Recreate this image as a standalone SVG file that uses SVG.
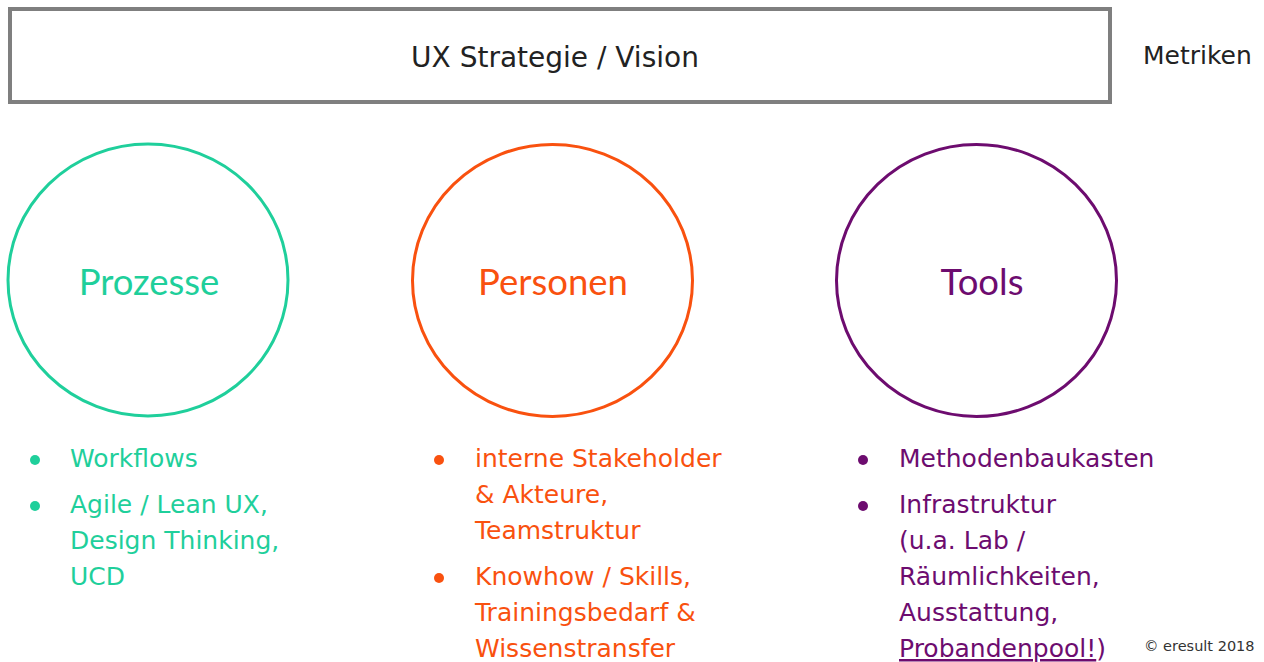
<svg xmlns="http://www.w3.org/2000/svg" width="1264" height="662" viewBox="0 0 1264 662">
  <style>
    .body { font-family: "DejaVu Sans", Verdana, sans-serif; font-size: 25px; }
    .head { font-family: Lato, "Open Sans", sans-serif; font-size: 36.5px; text-anchor: middle; }
    .ring { fill: none; stroke-width: 3; }
    .green { fill: #1fcf9b; }
    .orange { fill: #f9510f; }
    .purple { fill: #6d0c6f; }
  </style>
  <rect width="1264" height="662" fill="#ffffff"/>

  <!-- strategy banner -->
  <g id="strategy">
    <rect x="10" y="9" width="1100" height="93" fill="#ffffff" stroke="#7f7f7f" stroke-width="4"/>
    <text x="555" y="67" font-family="DejaVu Sans, Verdana, sans-serif" font-size="28" fill="#222222" text-anchor="middle">UX Strategie / Vision</text>
  </g>
  <g id="metrics">
    <text x="1143" y="64" font-family="DejaVu Sans, Verdana, sans-serif" font-size="25" fill="#222222">Metriken</text>
  </g>

  <!-- processes -->
  <g id="processes">
    <ellipse class="ring" cx="148" cy="280" rx="140" ry="136" stroke="#1fcf9b"/>
    <text class="head green" x="149" y="295">Prozesse</text>
    <g class="body green">
      <circle cx="35" cy="460" r="5"/>
      <text x="70" y="467">Workflows</text>
      <circle cx="35" cy="506" r="5"/>
      <text x="70" y="513">Agile / Lean UX,</text>
      <text x="70" y="549">Design Thinking,</text>
      <text x="70" y="585">UCD</text>
    </g>
  </g>

  <!-- people -->
  <g id="people">
    <ellipse class="ring" cx="552.5" cy="280.5" rx="140" ry="136" stroke="#f9510f"/>
    <text class="head orange" x="553" y="295">Personen</text>
    <g class="body orange">
      <circle cx="439" cy="460" r="5"/>
      <text x="475" y="467">interne Stakeholder</text>
      <text x="475" y="503">&amp; Akteure,</text>
      <text x="475" y="539">Teamstruktur</text>
      <circle cx="439" cy="578" r="5"/>
      <text x="475" y="585">Knowhow / Skills,</text>
      <text x="475" y="621">Trainingsbedarf &amp;</text>
      <text x="475" y="657">Wissenstransfer</text>
    </g>
  </g>

  <!-- tools -->
  <g id="tools">
    <ellipse class="ring" cx="976.5" cy="280.5" rx="140" ry="136" stroke="#6d0c6f"/>
    <text class="head purple" x="982" y="295">Tools</text>
    <g class="body purple">
      <circle cx="863" cy="460" r="5"/>
      <text x="899" y="467">Methodenbaukasten</text>
      <circle cx="863" cy="506" r="5"/>
      <text x="899" y="513">Infrastruktur</text>
      <text x="899" y="549">(u.a. Lab /</text>
      <text x="899" y="585">Räumlichkeiten,</text>
      <text x="899" y="621">Ausstattung,</text>
      <text x="899" y="657"><tspan text-decoration="underline">Probandenpool!</tspan>)</text>
    </g>
  </g>

  <g id="connectors"/>

  <text x="1144" y="651" font-family="DejaVu Sans, Verdana, sans-serif" font-size="14.5" fill="#333333">© eresult 2018</text>
</svg>
